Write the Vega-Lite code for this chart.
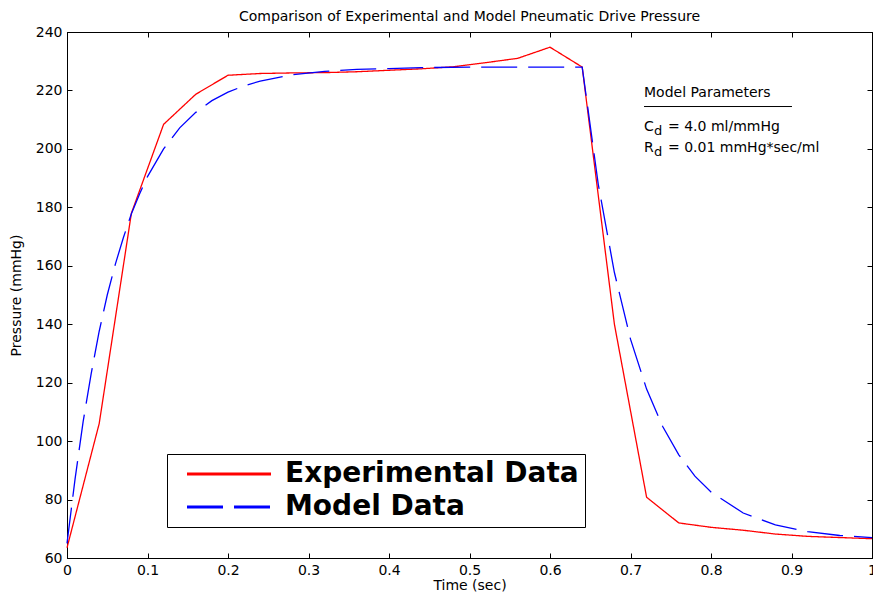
{
  "$schema": "https://vega.github.io/schema/vega-lite/v6.json",
  "width": 805,
  "height": 526,
  "autosize": {"type": "none"},
  "padding": {"left": 67, "top": 32, "right": 1, "bottom": 39},
  "background": "white",
  "title": {"text": "Comparison of Experimental and Model Pneumatic Drive Pressure", "font": "DejaVu Sans", "fontSize": 14, "fontWeight": "normal", "color": "black", "offset": 1, "anchor": "middle"},
  "config": {
    "view": {"stroke": "black", "strokeWidth": 1},
    "axis": {"domainColor": "black", "tickColor": "black", "tickSize": -5, "labelPadding": 10, "labelFont": "DejaVu Sans", "labelFontSize": 14, "labelColor": "black", "titleFont": "DejaVu Sans", "titleFontSize": 14, "titleFontWeight": "normal", "titleColor": "black", "grid": false, "labelFlush": false, "labelOverlap": false},
    "axisX": {"titlePadding": 1},
    "axisY": {"titlePadding": 12}
  },
  "datasets": {
    "curves": [
      {"t": 0, "p": 63.5, "series": "Experimental Data"},
      {"t": 0.04, "p": 106, "series": "Experimental Data"},
      {"t": 0.08, "p": 178, "series": "Experimental Data"},
      {"t": 0.12, "p": 208.4, "series": "Experimental Data"},
      {"t": 0.16, "p": 218.7, "series": "Experimental Data"},
      {"t": 0.2, "p": 225.2, "series": "Experimental Data"},
      {"t": 0.24, "p": 225.8, "series": "Experimental Data"},
      {"t": 0.28, "p": 226, "series": "Experimental Data"},
      {"t": 0.32, "p": 226.1, "series": "Experimental Data"},
      {"t": 0.36, "p": 226.4, "series": "Experimental Data"},
      {"t": 0.4, "p": 226.9, "series": "Experimental Data"},
      {"t": 0.44, "p": 227.4, "series": "Experimental Data"},
      {"t": 0.48, "p": 228.1, "series": "Experimental Data"},
      {"t": 0.52, "p": 229.5, "series": "Experimental Data"},
      {"t": 0.56, "p": 231, "series": "Experimental Data"},
      {"t": 0.6, "p": 234.8, "series": "Experimental Data"},
      {"t": 0.64, "p": 228, "series": "Experimental Data"},
      {"t": 0.68, "p": 140, "series": "Experimental Data"},
      {"t": 0.72, "p": 80.8, "series": "Experimental Data"},
      {"t": 0.76, "p": 72, "series": "Experimental Data"},
      {"t": 0.8, "p": 70.5, "series": "Experimental Data"},
      {"t": 0.84, "p": 69.5, "series": "Experimental Data"},
      {"t": 0.88, "p": 68.2, "series": "Experimental Data"},
      {"t": 0.92, "p": 67.4, "series": "Experimental Data"},
      {"t": 0.96, "p": 67, "series": "Experimental Data"},
      {"t": 1.0, "p": 66.6, "series": "Experimental Data"},
      {"t": 0, "p": 65, "series": "Model Data"},
      {"t": 0.01, "p": 87, "series": "Model Data"},
      {"t": 0.02, "p": 106.6, "series": "Model Data"},
      {"t": 0.03, "p": 123, "series": "Model Data"},
      {"t": 0.04, "p": 137.6, "series": "Model Data"},
      {"t": 0.05, "p": 150, "series": "Model Data"},
      {"t": 0.06, "p": 160.5, "series": "Model Data"},
      {"t": 0.07, "p": 169.6, "series": "Model Data"},
      {"t": 0.08, "p": 177.8, "series": "Model Data"},
      {"t": 0.09, "p": 184.5, "series": "Model Data"},
      {"t": 0.1, "p": 190.5, "series": "Model Data"},
      {"t": 0.12, "p": 200, "series": "Model Data"},
      {"t": 0.14, "p": 207.2, "series": "Model Data"},
      {"t": 0.16, "p": 212.5, "series": "Model Data"},
      {"t": 0.18, "p": 216.5, "series": "Model Data"},
      {"t": 0.2, "p": 219.4, "series": "Model Data"},
      {"t": 0.22, "p": 221.6, "series": "Model Data"},
      {"t": 0.24, "p": 223.2, "series": "Model Data"},
      {"t": 0.28, "p": 225.4, "series": "Model Data"},
      {"t": 0.32, "p": 226.5, "series": "Model Data"},
      {"t": 0.36, "p": 227.2, "series": "Model Data"},
      {"t": 0.4, "p": 227.5, "series": "Model Data"},
      {"t": 0.44, "p": 227.8, "series": "Model Data"},
      {"t": 0.5, "p": 228, "series": "Model Data"},
      {"t": 0.64, "p": 228, "series": "Model Data"},
      {"t": 0.66, "p": 187.8, "series": "Model Data"},
      {"t": 0.68, "p": 157.7, "series": "Model Data"},
      {"t": 0.7, "p": 134.9, "series": "Model Data"},
      {"t": 0.72, "p": 117.8, "series": "Model Data"},
      {"t": 0.74, "p": 105, "series": "Model Data"},
      {"t": 0.76, "p": 95.3, "series": "Model Data"},
      {"t": 0.78, "p": 88, "series": "Model Data"},
      {"t": 0.8, "p": 82.6, "series": "Model Data"},
      {"t": 0.84, "p": 75.4, "series": "Model Data"},
      {"t": 0.88, "p": 71.3, "series": "Model Data"},
      {"t": 0.92, "p": 69, "series": "Model Data"},
      {"t": 0.96, "p": 67.7, "series": "Model Data"},
      {"t": 1.0, "p": 67, "series": "Model Data"}
    ],
    "notes": [
      {"t": 0.7168, "p": 217.8, "label": "Model Parameters", "role": "main"},
      {"t": 0.7168, "p": 206.2, "label": "C", "role": "main"},
      {"t": 0.7168, "p": 198.8, "label": "R", "role": "main"},
      {"t": 0.7168, "p": 206.2, "label": "d", "role": "sub"},
      {"t": 0.7168, "p": 198.8, "label": "d", "role": "sub"},
      {"t": 0.7168, "p": 206.2, "label": "= 4.0 ml/mmHg", "role": "rest"},
      {"t": 0.7168, "p": 198.8, "label": "= 0.01 mmHg*sec/ml", "role": "rest"}
    ]
  },
  "layer": [
    {
      "data": {"name": "curves"},
      "mark": {"type": "line", "strokeWidth": 1.3},
      "encoding": {
        "x": {"field": "t", "type": "quantitative", "scale": {"domain": [0, 1], "nice": false, "zero": false},
              "axis": {"orient": "bottom", "title": "Time (sec)", "values": [0, 0.1, 0.2, 0.3, 0.4, 0.5, 0.6, 0.7, 0.8, 0.9, 1], "format": "~r"}},
        "y": {"field": "p", "type": "quantitative", "scale": {"domain": [60, 240], "nice": false, "zero": false},
              "axis": {"orient": "left", "title": "Pressure (mmHg)", "values": [60, 80, 100, 120, 140, 160, 180, 200, 220, 240]}},
        "color": {"field": "series", "type": "nominal",
                  "scale": {"domain": ["Experimental Data", "Model Data"], "range": ["#ff0000", "#0000ff"]},
                  "legend": {"orient": "none", "legendX": 100, "legendY": 422, "title": null, "symbolType": "M-4,0H4", "symbolSize": 441, "symbolStrokeWidth": 3, "labelFont": "DejaVu Sans", "labelFontSize": 28, "labelFontWeight": "bold", "labelColor": "black", "strokeColor": "black", "fillColor": "white", "padding": 6, "rowPadding": 5, "labelOffset": 42, "symbolOffset": 42, "labelLimit": 400,
                             "encode": {"symbols": {"update": {"strokeDash": [{"test": "datum.value === 'Model Data'", "value": [20, 12]}, {"value": [1, 0]}]}}}}},
        "strokeDash": {"field": "series", "type": "nominal",
                  "scale": {"domain": ["Experimental Data", "Model Data"], "range": [[1, 0], [36, 11]]},
                  "legend": {"orient": "none", "legendX": 100, "legendY": 422, "title": null, "symbolType": "M-4,0H4", "symbolSize": 441, "symbolStrokeWidth": 3, "labelFont": "DejaVu Sans", "labelFontSize": 28, "labelFontWeight": "bold", "labelColor": "black", "strokeColor": "black", "fillColor": "white", "padding": 6, "rowPadding": 5, "labelOffset": 42, "symbolOffset": 42, "labelLimit": 400,
                             "encode": {"symbols": {"update": {"strokeDash": [{"test": "datum.value === 'Model Data'", "value": [20, 12]}, {"value": [1, 0]}]}}}}}
      }
    },
    {
      "data": {"values": [{"t0": 0.7168, "t1": 0.9006, "p": 214.5}]},
      "mark": {"type": "rule", "color": "black", "strokeWidth": 1},
      "encoding": {
        "x": {"field": "t0", "type": "quantitative", "axis": {"orient": "top", "labels": false, "title": null, "values": [0, 0.1, 0.2, 0.3, 0.4, 0.5, 0.6, 0.7, 0.8, 0.9, 1]}},
        "x2": {"field": "t1"},
        "y": {"field": "p", "type": "quantitative", "axis": {"orient": "right", "labels": false, "title": null, "values": [60, 80, 100, 120, 140, 160, 180, 200, 220, 240]}}
      }
    },
    {
      "data": {"name": "notes"},
      "transform": [{"filter": "datum.role === 'main'"}],
      "mark": {"type": "text", "align": "left", "baseline": "alphabetic", "font": "DejaVu Sans", "fontSize": 14, "color": "black"},
      "encoding": {
        "x": {"field": "t", "type": "quantitative", "axis": null},
        "y": {"field": "p", "type": "quantitative", "axis": null},
        "text": {"field": "label"}
      }
    },
    {
      "data": {"name": "notes"},
      "transform": [{"filter": "datum.role === 'sub'"}],
      "mark": {"type": "text", "align": "left", "baseline": "alphabetic", "font": "DejaVu Sans", "fontSize": 13, "color": "black", "dx": 10, "dy": 4},
      "encoding": {
        "x": {"field": "t", "type": "quantitative", "axis": null},
        "y": {"field": "p", "type": "quantitative", "axis": null},
        "text": {"field": "label"}
      }
    },
    {
      "data": {"name": "notes"},
      "transform": [{"filter": "datum.role === 'rest'"}],
      "mark": {"type": "text", "align": "left", "baseline": "alphabetic", "font": "DejaVu Sans", "fontSize": 14, "color": "black", "dx": 24},
      "encoding": {
        "x": {"field": "t", "type": "quantitative", "axis": null},
        "y": {"field": "p", "type": "quantitative", "axis": null},
        "text": {"field": "label"}
      }
    }
  ],
  "resolve": {"axis": {"x": "independent", "y": "independent"}}
}
